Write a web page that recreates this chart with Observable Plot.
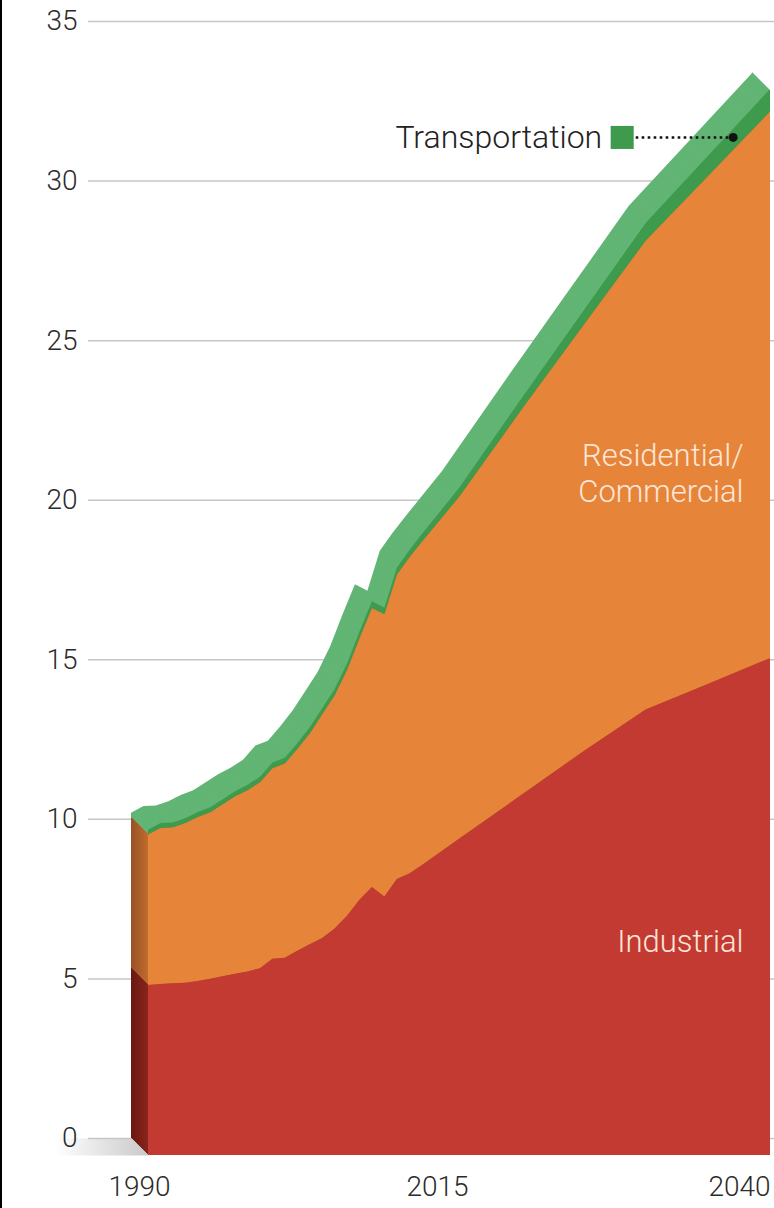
<!DOCTYPE html>
<html>
<head>
<meta charset="utf-8">
<script src="https://cdn.jsdelivr.net/npm/d3@7"></script>
<script src="https://cdn.jsdelivr.net/npm/@observablehq/plot@0.6"></script>
<style>
  html, body { margin: 0; padding: 0; background: #fff; }
  #chart { position: relative; width: 774px; height: 1208px; overflow: hidden; }
  #chart::before { content: ""; position: absolute; left: 0; top: 0; width: 2px; height: 100%; background: #000; z-index: 1; }
  #chart svg { display: block; }
</style>
</head>
<body>
<div id="chart"></div>
<script>
// Electricity consumption by end-use sector, 1990–2040
const years = [1990, 1991, 1992, 1993, 1994, 1995, 1996, 1997, 1998, 1999, 2000, 2001, 2002,
  2003, 2004, 2005, 2006, 2007, 2008, 2009, 2010, 2011, 2012, 2015, 2020, 2025, 2030, 2035, 2040];
const industrial = [5.33, 5.36, 5.38, 5.40, 5.45, 5.52, 5.60, 5.68, 5.75, 5.85, 6.15, 6.18, 6.40,
  6.60, 6.80, 7.10, 7.50, 8.00, 8.40, 8.10, 8.65, 8.82, 9.08, 9.91, 11.28, 12.65, 13.96, 14.76, 15.57];
const residentialCommercial = [4.71, 4.89, 4.89, 5.00, 5.14, 5.22, 5.39, 5.56, 5.68, 5.83, 5.97, 6.09, 6.32,
  6.61, 7.01, 7.30, 7.70, 8.19, 8.74, 8.84, 9.53, 9.90, 10.13, 10.71, 12.06, 13.35, 14.69, 15.91, 17.13];
const transportation = [0.15, 0.15, 0.15, 0.15, 0.16, 0.16, 0.16, 0.16, 0.17, 0.17, 0.18, 0.18, 0.18,
  0.19, 0.19, 0.20, 0.20, 0.21, 0.21, 0.21, 0.22, 0.23, 0.24, 0.28, 0.36, 0.45, 0.55, 0.63, 0.70];

const sectors = ["Industrial", "Residential/Commercial", "Transportation"];
const yTicks = [0, 5, 10, 15, 20, 25, 30, 35];
const xTicks = [1990, 2015, 2040];

// In-chart labels (value = vertical position on the front face)
const sectorLabels = [
  {text: "Residential/\nCommercial", year: 2040, value: 21.4},
  {text: "Industrial", year: 2040, value: 6.74}
];
const transportCallout = {text: "Transportation", year: 2037, value: 31.9};

// Long-format table for stacking
const seriesBySector = [industrial, residentialCommercial, transportation];
const rows = sectors.flatMap((sector, i) =>
  years.map((year, j) => ({year, sector, value: seriesBySector[i][j]})));

// Colours: front faces, and the darker receding faces of the extrusion
const frontColor = {
  "Industrial": "#c33a33",
  "Residential/Commercial": "#e6853a",
  "Transportation": "#3e9a4c"
};
const backColor = {
  "Industrial": ["#6a1812", "#8a251c"],
  "Residential/Commercial": ["#9a5226", "#c06d2d"],
  "Transportation": ["#62b574", "#62b574"]
};

const DEPTH = 17; // extrusion depth in pixels (towards the viewer, down-right)
const FONT = "Roboto, 'Liberation Sans', Arial, sans-serif";
const WEIGHT = 300;

// The solid is painted back to front as a series of offset copies of the stack;
// the last copy is the front face.
const slices = d3.range(DEPTH + 1).map((k) => {
  const t = k / DEPTH;
  const fill = k === DEPTH
    ? (d) => frontColor[d.sector]
    : (d) => d3.interpolateRgb(...backColor[d.sector])(t);
  return Plot.areaY(rows, {
    x: "year", y: "value", z: "sector", fill,
    dx: k, dy: k
  });
});

const shade = () => {
  const defs = d3.create("svg:defs");
  const g = defs.append("linearGradient").attr("id", "floorShade");
  g.append("stop").attr("offset", "0%").attr("stop-color", "#ffffff");
  g.append("stop").attr("offset", "100%").attr("stop-color", "#c9c9c9");
  return defs.node();
};

const W = 774, H = 1208;
const M = {top: 21, right: 21, bottom: 70, left: 131};
const frameW = W - M.left - M.right, frameH = H - M.top - M.bottom;

const axisText = {fontSize: 28, fontWeight: WEIGHT, fill: "#2b2b2b"};

const chart = Plot.plot({
  width: W,
  height: H,
  marginTop: M.top,
  marginRight: M.right,
  marginBottom: M.bottom,
  marginLeft: M.left,
  x: {domain: [1990, 2040], axis: null},
  y: {domain: [0, 35], axis: null},
  color: {type: "identity"},
  style: {fontFamily: FONT, background: "#fff", overflow: "visible"},
  marks: [
    shade,
    // floor shading under the solid
    Plot.frame({
      fill: "url(#floorShade)", stroke: null,
      insetLeft: -76, insetRight: frameW - DEPTH,
      insetTop: frameH, insetBottom: -DEPTH
    }),
    // horizontal grid on the back wall
    Plot.ruleY(yTicks, {y: (d) => d, stroke: "#c6c6c6", strokeWidth: 1.5, insetLeft: -43, insetRight: -M.right}),
    Plot.text(yTicks, {
      y: (d) => d, text: (d) => String(d), frameAnchor: "left",
      textAnchor: "end", dx: -54, ...axisText
    }),
    ...slices,
    // sector labels on the front face
    Plot.text(sectorLabels, {
      x: "year", y: "value", text: "text", textAnchor: "end",
      dx: DEPTH - 27, dy: DEPTH, fontSize: 31, fontWeight: WEIGHT, lineHeight: 1.16,
      fill: "#fde6d8"
    }),
    // Transportation callout
    Plot.ruleY([transportCallout], {
      x1: "year", x2: "year", y: "value", insetLeft: -97,
      dx: DEPTH, dy: DEPTH, stroke: "#111", strokeWidth: 2.6, strokeDasharray: "2.6,3.4"
    }),
    Plot.dot([transportCallout], {
      x: "year", y: "value", r: 4.5, fill: "#111", dx: DEPTH, dy: DEPTH
    }),
    Plot.dot([transportCallout], {
      x: "year", y: "value", symbol: "square", r: 13, fill: frontColor["Transportation"],
      dx: DEPTH - 111, dy: DEPTH
    }),
    Plot.text([transportCallout], {
      x: "year", y: "value", text: "text", textAnchor: "end",
      dx: DEPTH - 131, dy: DEPTH, fontSize: 32, fontWeight: WEIGHT, fill: "#222"
    }),
    // year labels
    Plot.text([xTicks[0]], {x: (d) => d, text: String, frameAnchor: "bottom", dy: 57, dx: 8, ...axisText}),
    Plot.text([xTicks[1]], {x: (d) => d, text: String, frameAnchor: "bottom", dy: 57, dx: -5, ...axisText}),
    Plot.text([xTicks[2]], {x: (d) => d, text: String, frameAnchor: "bottom", dy: 57, dx: DEPTH, textAnchor: "end", ...axisText})
  ]
});

document.getElementById("chart").append(chart);
</script>
</body>
</html>
